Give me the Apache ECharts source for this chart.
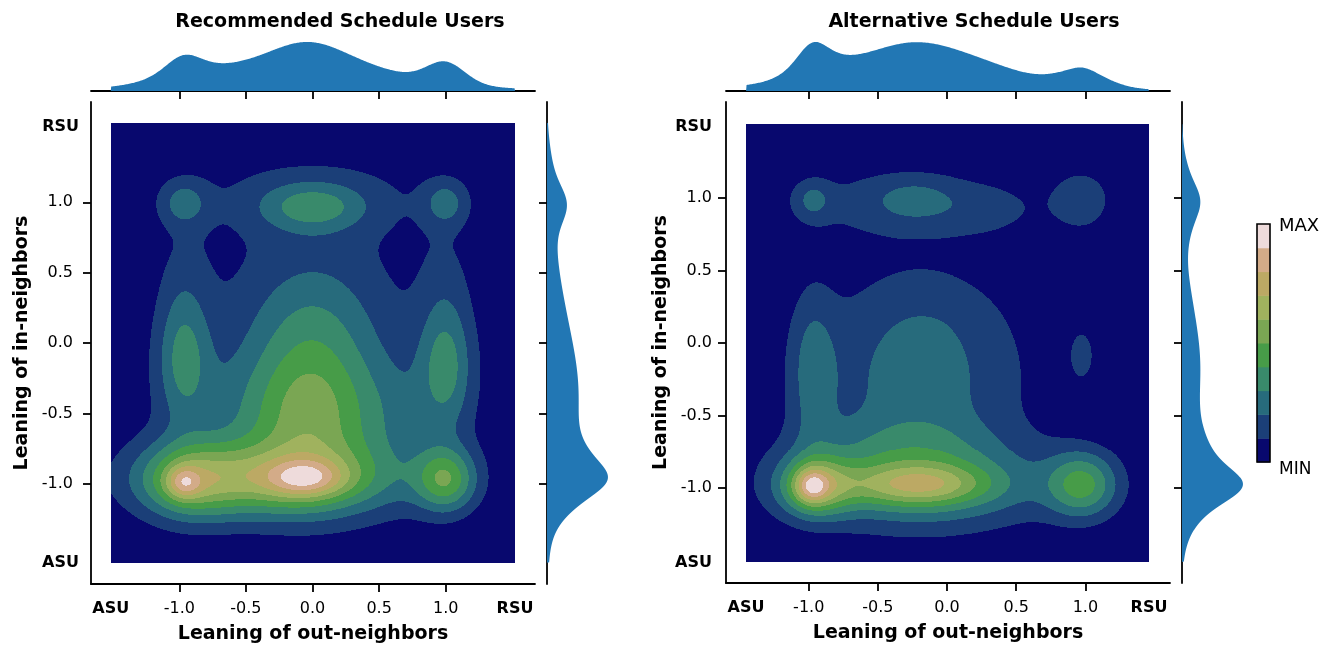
<!DOCTYPE html>
<html>
<head>
<meta charset="utf-8">
<script src="https://cdn.jsdelivr.net/npm/echarts@6/dist/echarts.min.js"></script>
<style>
  html, body { margin: 0; padding: 0; background: #ffffff; }
  #chart { width: 1336px; height: 647px; }
</style>
</head>
<body>
<div id="chart"></div>
<script>
// ---- axis ticks and labels (leaning scale: ASU = -1.5 side, RSU = +1.5 side) ----
const tickValues = [-1, -0.5, 0, 0.5, 1];
const recXLabelAt = [-1.515, -1, -0.5, 0, 0.5, 1, 1.52];
const recYLabelAt = [-1.561, -1, -0.5, 0, 0.5, 1, 1.535];
const altXLabelAt = [-1.453, -1, -0.5, 0, 0.5, 1, 1.46];
const altYLabelAt = [-1.517, -1, -0.5, 0, 0.5, 1, 1.49];

// KDE evaluation window of each panel [min, max]
const recExtentX = [-1.515, 1.52];
const recExtentY = [-1.56, 1.565];
const altExtentX = [-1.453, 1.46];
const altExtentY = [-1.51, 1.51];

// ---- Recommended Schedule Users: user clusters (centre, spread, relative density) ----
const recCentreX = [-0.97, -0.93, -0.05, -0.30, 1.00, -0.03, 0.00, -0.97, 1.00, -0.97, 0.00, 1.00, 0.00, 0.00, -0.97, 1.00, 0.62, -0.65, 0.00];
const recCentreY = [-0.99, -0.97, -0.96, -0.97, -0.97, -0.55, 0.10, -0.10, -0.15, 1.00, 0.97, 1.00, -0.40, 1.05, 0.50, 0.50, -0.55, -0.50, 0.50];
const recSpreadX = [0.09, 0.26, 0.20, 0.62, 0.16, 0.34, 0.34, 0.14, 0.14, 0.13, 0.27, 0.12, 0.90, 0.75, 0.16, 0.16, 0.25, 0.25, 0.55];
const recSpreadY = [0.08, 0.20, 0.09, 0.18, 0.16, 0.35, 0.35, 0.32, 0.32, 0.12, 0.12, 0.12, 0.60, 0.25, 0.28, 0.28, 0.30, 0.30, 0.30];
const recHeight  = [0.29, 0.34, 0.30, 0.47, 0.42, 0.40, 0.19, 0.28, 0.29, 0.20, 0.25, 0.20, 0.14, 0.12, 0.07, 0.07, 0.08, 0.05, 0.05];

// ---- Alternative Schedule Users: user clusters ----
const altCentreX = [-0.98, -0.95, -0.22, -0.20, 0.98, -0.20, -0.97, 0.98, -0.97, -0.24, 0.98, -0.20, -0.35, 0.30, -0.35, -0.15];
const altCentreY = [-0.99, -0.99, -0.98, -0.98, -0.98, -0.30, -0.20, -0.08, 0.99, 0.99, 0.99, -0.20, 0.97, 0.92, -0.70, 0.25];
const altSpreadX = [0.08, 0.18, 0.36, 0.70, 0.18, 0.46, 0.12, 0.08, 0.09, 0.20, 0.17, 0.75, 0.70, 0.25, 0.50, 0.40];
const altSpreadY = [0.08, 0.14, 0.10, 0.22, 0.16, 0.50, 0.40, 0.16, 0.09, 0.10, 0.17, 0.45, 0.21, 0.12, 0.15, 0.22];
const altHeight  = [0.28, 0.42, 0.35, 0.28, 0.36, 0.16, 0.18, 0.10, 0.15, 0.12, 0.13, 0.08, 0.12, 0.06, 0.08, 0.035];

// ten filled density levels, MIN -> MAX
const levelColors = ['#08086e', '#1b3f78', '#276b7c', '#398a6b', '#479c48',
                     '#7aa653', '#a0b25e', '#bca964', '#d3ab88', '#eedbdb'];
const marginColor = '#2277b4';

function kernels(centres, spreads, grid) {
  return centres.map((c, k) => grid.map(v => Math.exp(-((v - c) * (v - c)) / (2 * spreads[k] * spreads[k]))));
}

// Evaluate the density on a grid, split it into level runs per row, and build both marginals.
function buildPanel(cx, cy, sx, sy, h, extX, extY) {
  const nx = 404, ny = 440;
  const dx = (extX[1] - extX[0]) / nx, dy = (extY[1] - extY[0]) / ny;
  const xs = Array.from({ length: nx }, (_, i) => extX[0] + (i + 0.5) * dx);
  const ys = Array.from({ length: ny }, (_, j) => extY[0] + (j + 0.5) * dy);
  const kx = kernels(cx, sx, xs), ky = kernels(cy, sy, ys);
  const rows = [];
  let peak = 0;
  for (let j = 0; j < ny; j++) {
    const row = new Float64Array(nx);
    for (let k = 0; k < h.length; k++) {
      const a = h[k] * ky[k][j];
      if (a < 1e-7) continue;
      const kk = kx[k];
      for (let i = 0; i < nx; i++) row[i] += a * kk[i];
    }
    for (let i = 0; i < nx; i++) if (row[i] > peak) peak = row[i];
    rows.push(row);
  }
  const level = v => Math.min(9, Math.floor(v / peak * 10));
  const runs = rows.map(row => {
    const list = [];
    let start = 0, lev = level(row[0]);
    for (let i = 1; i <= nx; i++) {
      const l = i < nx ? level(row[i]) : -1;
      if (l !== lev) { list.push([start, i - 1, lev]); start = i; lev = l; }
    }
    return list;
  });
  const margX = xs.map((x, i) => h.reduce((s, hk, k) => s + hk * sy[k] * kx[k][i], 0));
  const margY = ys.map((y, j) => h.reduce((s, hk, k) => s + hk * sx[k] * ky[k][j], 0));
  const topPts = [[extX[0], 0]].concat(xs.map((x, i) => [x, margX[i]]), [[extX[1], 0]]);
  const sidePts = [[0, extY[0]]].concat(ys.map((y, j) => [margY[j], y]), [[0, extY[1]]]);
  return { xs, ys, dx, dy, runs, topPts, sidePts,
           topMax: Math.max(...margX), sideMax: Math.max(...margY) };
}

const rec = buildPanel(recCentreX, recCentreY, recSpreadX, recSpreadY, recHeight, recExtentX, recExtentY);
const alt = buildPanel(altCentreX, altCentreY, altSpreadX, altSpreadY, altHeight, altExtentX, altExtentY);

// one data item per grid row; runs of equal level become pixel-snapped rectangles
function densityRender(panel) {
  return function (params, api) {
    const j = params.dataIndex;
    const yLo = panel.ys[j] - panel.dy / 2, yHi = panel.ys[j] + panel.dy / 2;
    const children = [];
    panel.runs[j].forEach(([a, b, lev]) => {
      const p0 = api.coord([panel.xs[a] - panel.dx / 2, yHi]);
      const p1 = api.coord([panel.xs[b] + panel.dx / 2, yLo]);
      const x0 = Math.round(p0[0]), x1 = Math.round(p1[0]);
      const y0 = Math.round(p0[1]), y1 = Math.round(p1[1]);
      if (x1 <= x0 || y1 <= y0) return;
      children.push({ type: 'rect', shape: { x: x0, y: y0, width: x1 - x0, height: y1 - y0 },
                      style: { fill: levelColors[lev] } });
    });
    return { type: 'group', children };
  };
}

function areaRender(points) {
  return function (params, api) {
    if (params.dataIndex !== 0) return null;
    return { type: 'polygon', shape: { points: points.map(p => api.coord(p)) },
             style: { fill: marginColor } };
  };
}

function leanLabel(v) {
  if (v <= -1.2) return '{b|ASU}';
  if (v >= 1.2) return '{b|RSU}';
  return v.toFixed(1);
}

const lineStyle = { color: '#000', width: 1.8 };
const boldRich = { b: { fontWeight: 'bold', fontSize: 16, color: '#000', fontFamily: 'DejaVu Sans' } };

function mainX(gridIndex, min, max, labelAt) {
  return {
    type: 'value', gridIndex, min, max, position: 'bottom',
    axisLine: { show: true, onZero: false, lineStyle },
    axisTick: { show: true, customValues: tickValues, length: 8, lineStyle },
    axisLabel: { show: true, customValues: labelAt, formatter: leanLabel, margin: 17,
                 color: '#000', fontSize: 16, rich: boldRich },
    splitLine: { show: false },
    name: 'Leaning of out-neighbors', nameLocation: 'middle', nameGap: 41,
    nameTextStyle: { fontSize: 19, fontWeight: 'bold', color: '#000' }
  };
}
function mainY(gridIndex, min, max, labelAt, margin, numPad, nameGap) {
  return {
    type: 'value', gridIndex, min, max, position: 'left',
    axisLine: { show: true, onZero: false, lineStyle },
    axisTick: { show: true, customValues: tickValues, length: 8, lineStyle },
    axisLabel: {
      show: true, customValues: labelAt, margin, color: '#000', fontSize: 16,
      formatter: v => (Math.abs(v) >= 1.2 ? leanLabel(v) : '{n|' + v.toFixed(1) + '}'),
      rich: Object.assign({ n: { fontSize: 16, color: '#000', padding: [0, numPad, 0, 0], fontFamily: 'DejaVu Sans' } }, boldRich)
    },
    splitLine: { show: false },
    name: 'Leaning of in-neighbors', nameLocation: 'middle', nameGap, nameRotate: 90,
    nameTextStyle: { fontSize: 19, fontWeight: 'bold', color: '#000' }
  };
}
function marginX(gridIndex, min, max) {
  return {
    type: 'value', gridIndex, min, max, position: 'bottom',
    axisLine: { show: true, onZero: false, lineStyle },
    axisTick: { show: true, customValues: tickValues, length: 8, lineStyle },
    axisLabel: { show: false }, splitLine: { show: false }
  };
}
function marginY(gridIndex, min, max) {
  return {
    type: 'value', gridIndex, min, max, position: 'left',
    axisLine: { show: true, onZero: false, lineStyle },
    axisTick: { show: true, customValues: tickValues, length: 8, lineStyle },
    axisLabel: { show: false }, splitLine: { show: false }
  };
}
function hiddenAxis(gridIndex, min, max) {
  return { type: 'value', gridIndex, min, max, show: false, splitLine: { show: false } };
}
function box(left, top, width, height) {
  return { left, top, width, height, containLabel: false, outerBoundsMode: 'none' };
}

const option = {
  animation: false,
  backgroundColor: '#ffffff',
  textStyle: { fontFamily: 'DejaVu Sans' },
  title: [
    { text: 'Recommended Schedule Users', left: 335, top: 8, textAlign: 'center',
      textStyle: { fontSize: 19, fontWeight: 'bold', color: '#000' } },
    { text: 'Alternative Schedule Users', left: 969, top: 8, textAlign: 'center',
      textStyle: { fontSize: 19, fontWeight: 'bold', color: '#000' } }
  ],
  grid: [
    box(91, 102, 444, 482),     // recommended: joint density
    box(91, 40, 444, 51),       // recommended: out-neighbor marginal
    box(547, 102, 64, 482),     // recommended: in-neighbor marginal
    box(726, 102, 444, 481),    // alternative: joint density
    box(726, 40, 444, 51),      // alternative: out-neighbor marginal
    box(1182, 102, 64, 481),    // alternative: in-neighbor marginal
    box(1257, 224, 13, 238)     // level colour bar
  ],
  xAxis: [
    mainX(0, -1.663, 1.67, recXLabelAt),
    marginX(1, -1.663, 1.67),
    hiddenAxis(2, 0, rec.sideMax * 1.05),
    mainX(3, -1.598, 1.612, altXLabelAt),
    marginX(4, -1.598, 1.612),
    hiddenAxis(5, 0, alt.sideMax * 1.05),
    hiddenAxis(6, 0, 1)
  ],
  yAxis: [
    mainY(0, -1.71, 1.712, recYLabelAt, 12, 6, 59),
    hiddenAxis(1, 0, rec.topMax * 1.04),
    marginY(2, -1.71, 1.712),
    mainY(3, -1.655, 1.662, altYLabelAt, 14, 0, 55),
    hiddenAxis(4, 0, alt.topMax * 1.04),
    marginY(5, -1.655, 1.662),
    {
      type: 'value', gridIndex: 6, min: 0, max: 10, position: 'right',
      axisLine: { show: false }, axisTick: { show: false }, splitLine: { show: false },
      axisLabel: {
        show: true, customValues: [0, 10], margin: 9, color: '#000',
        formatter: v => (v >= 10 ? '{mx|MAX}' : '{mn|MIN}'),
        rich: {
          mx: { fontSize: 18, color: '#000', padding: [4, 0, 0, 0], fontFamily: 'DejaVu Sans' },
          mn: { fontSize: 17, color: '#000', padding: [16, 0, 0, 0], fontFamily: 'DejaVu Sans' }
        }
      }
    }
  ],
  series: [
    { type: 'custom', name: 'Recommended density', xAxisIndex: 0, yAxisIndex: 0, silent: true,
      data: rec.ys.map(y => [rec.xs[0], y]), renderItem: densityRender(rec) },
    { type: 'custom', name: 'Recommended out-neighbors', xAxisIndex: 1, yAxisIndex: 1, silent: true,
      data: rec.topPts, renderItem: areaRender(rec.topPts) },
    { type: 'custom', name: 'Recommended in-neighbors', xAxisIndex: 2, yAxisIndex: 2, silent: true,
      data: rec.sidePts, renderItem: areaRender(rec.sidePts) },
    { type: 'custom', name: 'Alternative density', xAxisIndex: 3, yAxisIndex: 3, silent: true,
      data: alt.ys.map(y => [alt.xs[0], y]), renderItem: densityRender(alt) },
    { type: 'custom', name: 'Alternative out-neighbors', xAxisIndex: 4, yAxisIndex: 4, silent: true,
      data: alt.topPts, renderItem: areaRender(alt.topPts) },
    { type: 'custom', name: 'Alternative in-neighbors', xAxisIndex: 5, yAxisIndex: 5, silent: true,
      data: alt.sidePts, renderItem: areaRender(alt.sidePts) },
    { type: 'custom', name: 'Levels', xAxisIndex: 6, yAxisIndex: 6, silent: true,
      data: levelColors.map((c, k) => [0, k]),
      renderItem: function (params, api) {
        const k = params.dataIndex;
        const p0 = api.coord([0, k + 1]), p1 = api.coord([1, k]);
        return { type: 'rect', shape: { x: p0[0], y: p0[1], width: p1[0] - p0[0], height: p1[1] - p0[1] + 0.5 },
                 style: { fill: levelColors[k] } };
      } },
    { type: 'custom', name: 'Levels frame', xAxisIndex: 6, yAxisIndex: 6, silent: true, z: 3,
      data: [[0, 0]],
      renderItem: function (params, api) {
        const p0 = api.coord([0, 10]), p1 = api.coord([1, 0]);
        return { type: 'rect', shape: { x: p0[0], y: p0[1], width: p1[0] - p0[0], height: p1[1] - p0[1] },
                 style: { fill: 'none', stroke: '#000', lineWidth: 1.6 } };
      } }
  ]
};

const chart = echarts.init(document.getElementById('chart'), null, { renderer: 'canvas' });
chart.setOption(option);
</script>
</body>
</html>
